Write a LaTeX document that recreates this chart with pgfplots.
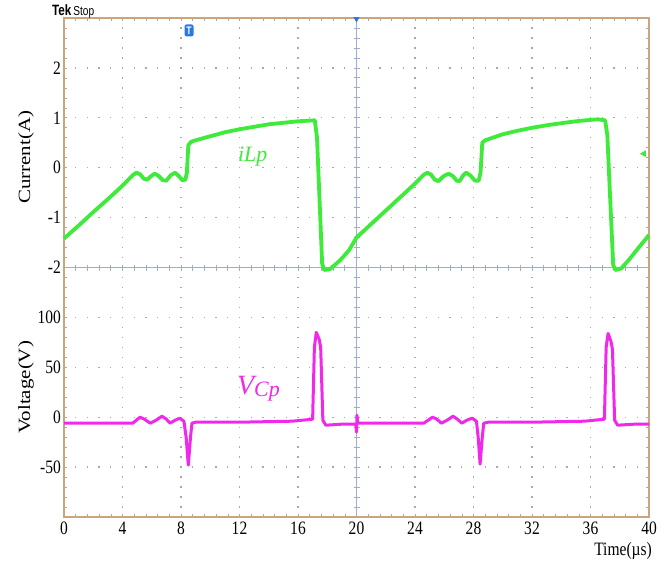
\documentclass[border=0pt]{standalone}
\usepackage{graphicx}
\usepackage{pgfplots}
\pgfplotsset{compat=1.18}
\usepackage{fontspec}
\setmainfont{Liberation Serif}[FakeStretch=0.82]
\newfontfamily\plainserif{Liberation Serif}
\newfontfamily\tekfont{Liberation Sans}[FakeStretch=0.78]
\usetikzlibrary{shapes.geometric}
\definecolor{scgreen}{RGB}{62,234,58}
\definecolor{scmag}{RGB}{240,40,235}
\definecolor{frametan}{RGB}{205,165,125}
\definecolor{crossblue}{RGB}{160,174,205}
\definecolor{griddot}{RGB}{170,170,170}
\definecolor{tekblue}{RGB}{40,120,230}
\begin{document}
\begin{tikzpicture}
\begin{axis}[
  name=cur, at={(0,0)}, anchor=south west,
  width=585bp, height=499bp, scale only axis, clip=false,
  xmin=0, xmax=40, ymin=-7, ymax=3,
  xtick={0,4,...,40}, xticklabels={0,4,8,12,16,20,24,28,32,36,40},
  ytick={-7,-6,...,3}, yticklabels={,,,,,-2,-1,0,1,2,},
  minor x tick num=4, minor y tick num=4,
  major tick length=3bp, minor tick length=3bp, tick align=inside, tick pos=both,
  tick style={griddot, line width=0.6bp},
  grid=major,
  x grid style={griddot, line width=1.3bp, dash pattern=on 1.3bp off 8.68bp, dash phase=0.65bp},
  y grid style={griddot, line width=1.3bp, dash pattern=on 1.3bp off 10.4bp, dash phase=0.65bp},
  axis line style={frametan, line width=1.2bp},
  /pgf/number format/assume math mode=true,
  ticklabel style={font=\fontsize{19}{19}\selectfont},
  yticklabel style={inner sep=0pt, xshift=-3bp},
  xticklabel style={inner sep=0pt, yshift=-5bp},
  xlabel={Time(µs)},
  xlabel style={at={(axis description cs:1,0)}, anchor=north east, inner sep=0pt,
    yshift=-25bp, xshift=3bp, font=\fontsize{19}{19}\selectfont},
  ylabel={\scalebox{1}[0.82]{Current(A)}},
  ylabel style={at={(axis description cs:-0.065,0.721)}, anchor=center,
    font=\plainserif\fontsize{21}{21}\selectfont},
]
% centre crosshair of the scope screen
\draw[crossblue, line width=1bp] (axis cs:0,-2) -- (axis cs:40,-2);
\draw[crossblue, line width=1bp] (axis cs:20,-7) -- (axis cs:20,3);
\pgfplotsinvokeforeach{0.8,1.6,...,39.3}{\draw[crossblue, line width=0.8bp] ([yshift=-3bp]axis cs:#1,-2) -- ([yshift=3bp]axis cs:#1,-2);}
\pgfplotsinvokeforeach{-6.8,-6.6,...,2.9}{\draw[crossblue, line width=0.8bp] ([xshift=-3bp]axis cs:20,#1) -- ([xshift=3bp]axis cs:20,#1);}
% iLp
\addplot[scgreen, line width=3.8bp, line join=round] coordinates {
(0,-1.42) (1,-1.16) (2,-0.89) (3,-0.63) (4,-0.36) (4.7,-0.15) (4.95,-0.1) (5.2,-0.13)
(5.45,-0.22) (5.7,-0.24) (5.95,-0.17) (6.2,-0.12) (6.45,-0.16) (6.75,-0.25) (7.0,-0.26)
(7.3,-0.15) (7.6,-0.1) (7.85,-0.17) (8.1,-0.25) (8.3,-0.24) (8.4,-0.1) (8.5,0.45) (8.7,0.52)
(9,0.55) (10,0.63) (11,0.71) (12,0.77) (13,0.82) (14,0.87) (15,0.9) (16,0.93) (17.15,0.95)
(17.3,0.6) (17.65,-1.92) (17.8,-2.05) (18.2,-2.03) (18.9,-1.85) (19.5,-1.65) (20,-1.4)
(21,-1.13) (22,-0.86) (23,-0.59) (24,-0.32) (24.6,-0.14) (24.85,-0.1) (25.1,-0.14)
(25.35,-0.24) (25.6,-0.27) (25.95,-0.17) (26.3,-0.12) (26.6,-0.17) (26.85,-0.26) (27.05,-0.27)
(27.3,-0.15) (27.5,-0.1) (27.8,-0.16) (28.1,-0.26) (28.35,-0.26) (28.48,-0.1) (28.6,0.5) (28.8,0.55)
(30,0.67) (31,0.74) (32,0.8) (33,0.85) (34.2,0.9) (35.3,0.94) (36.5,0.97) (37.0,0.95)
(37.15,0.65) (37.55,-1.95) (37.7,-2.05) (38.1,-2.02) (38.7,-1.82) (39.3,-1.6) (40,-1.35)
};
\node[scgreen, anchor=center, inner sep=0pt] at (axis cs:12.9,0.22)
  {\plainserif\itshape\fontsize{22}{22}\selectfont iLp};
% markers
\node[fill=tekblue, rounded corners=2bp, minimum width=9bp, minimum height=12bp, inner sep=0pt,
  text=white, font=\tekfont\bfseries\fontsize{11}{11}\selectfont] at (axis cs:8.55,2.75) {T};
\node[regular polygon, regular polygon sides=3, shape border rotate=180, fill=tekblue,
  minimum size=7bp, inner sep=0pt] at ([yshift=-1bp]axis cs:20,3) {};
\node[regular polygon, regular polygon sides=3, shape border rotate=90, fill=scgreen,
  minimum size=8bp, inner sep=0pt] at (axis cs:39.65,0.28) {};
\end{axis}
\begin{axis}[
  name=volt, at={(0,0)}, anchor=south west,
  width=585bp, height=499bp, scale only axis, clip=false,
  xmin=0, xmax=40, ymin=-100, ymax=400,
  hide x axis, axis line style={draw=none},
  ytick={-50,0,50,100}, yticklabels={-50,0,50,100},
  major tick length=0pt,
  ticklabel style={font=\fontsize{19}{19}\selectfont},
  yticklabel style={inner sep=0pt, xshift=-3bp},
  ylabel={\scalebox{1}[0.82]{Voltage(V)}},
  ylabel style={at={(axis description cs:-0.065,0.26)}, anchor=center,
    font=\plainserif\fontsize{21}{21}\selectfont},
]
\addplot[scmag, line width=3bp, line join=round] coordinates {
(0,-6) (2,-6) (4.7,-6) (4.95,-3) (5.2,0) (5.5,-2) (5.9,-6) (6.3,-3) (6.7,1) (7.0,-2)
(7.25,-6) (7.6,-3) (7.9,-1) (8.2,-4) (8.35,-20) (8.5,-48)
(8.65,-20) (8.75,-6) (9,-5) (12,-5) (15.6,-4) (17.0,-2) (17.12,70) (17.25,85) (17.45,78) (17.55,70)
(17.7,-3) (17.9,-8) (19,-7) (19.95,-7) (20,-15) (20.03,2) (20.08,-6)
(22,-6) (24.6,-6) (24.9,-3) (25.2,0) (25.5,-2) (25.8,-6) (26.2,-3) (26.6,1) (26.9,-2) (27.2,-6)
(27.55,-3) (27.9,-1) (28.2,-4) (28.32,-20) (28.45,-47)
(28.6,-20) (28.7,-6) (29,-5) (32,-5) (35.6,-4) (36.95,-2) (37.07,70) (37.2,84) (37.4,76) (37.5,68)
(37.65,-3) (37.85,-8) (39,-7) (40,-7)
};
\node[scmag, anchor=center, inner sep=0pt] at (axis cs:13.3,29)
  {\plainserif\itshape\fontsize{28}{28}\selectfont V\raisebox{-2bp}{\fontsize{22}{22}\selectfont Cp}};
\end{axis}
\node[anchor=base west, inner sep=0pt] at ([shift={(-12bp,2bp)}]cur.north west)
  {\tekfont\fontsize{15}{15}\selectfont\bfseries Tek\hspace{2bp}\mdseries\fontsize{13}{13}\selectfont Stop};
\pgfresetboundingbox
\path ([shift={(-64bp,-44bp)}]cur.south west) rectangle ([shift={(16bp,18bp)}]cur.north east);
\end{tikzpicture}
\end{document}
